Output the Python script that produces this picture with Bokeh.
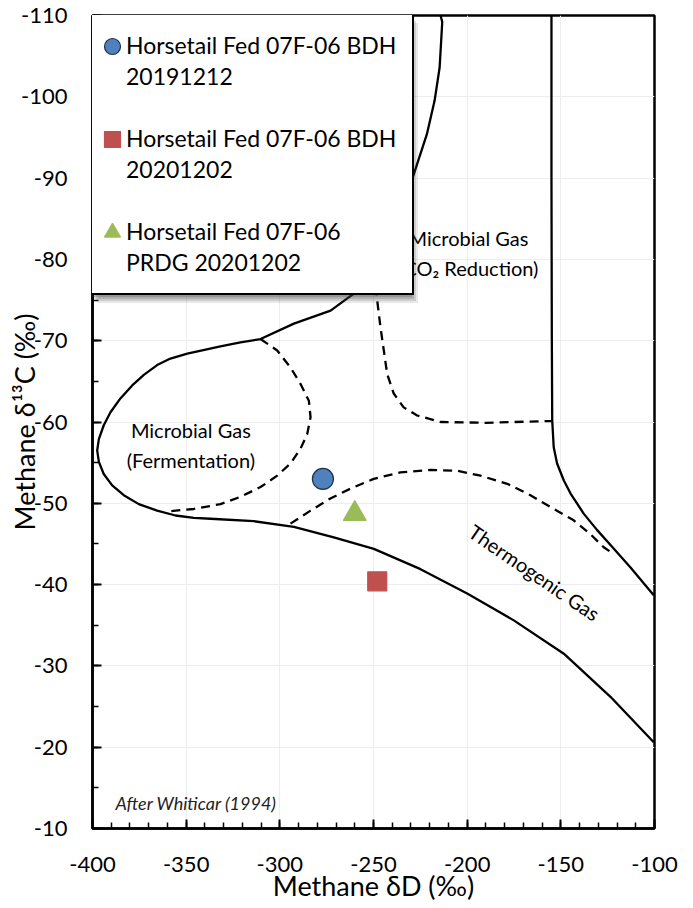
from bokeh.plotting import figure
from bokeh.models import Range1d, Legend, LegendItem, FixedTicker, ColumnDataSource
from bokeh.embed import file_html
from bokeh.resources import INLINE
from bokeh.core.properties import value

# ---------------- data ----------------
series_label_lines = [["Horsetail Fed 07F-06 BDH", "20191212"],
                      ["Horsetail Fed 07F-06 BDH", "20201202"],
                      ["Horsetail Fed 07F-06", "PRDG 20201202"]]
series_markers = ["circle", "square", "triangle"]
series_colors = ["#4f81bd", "#c0504d", "#9bbb59"]
sample_dD = [-277.0, -248.0, -260.0]
sample_d13C = [-53.0, -40.4, -48.7]

x_ticks = [-400, -350, -300, -250, -200, -150, -100]
x_minor = list(range(-400, -99, 10))
y_ticks = [-110, -100, -90, -80, -70, -60, -50, -40, -30, -20, -10]
y_minor = list(range(-110, -9, 5))

# field boundaries (after Whiticar 1994)
outer_dD = [-214.2, -213.3, -214.7, -217.4, -221.5, -229.3, -235.6, -242.0, -247.3, -252.7,
            -258.5, -264.0, -272.9, -292.5, -310.3, -321.0, -331.7, -349.4, -358.4, -365.5,
            -372.6, -378.8, -385.1, -390.4, -394.0, -396.6, -397.5, -396.6, -394.0, -389.5,
            -383.3, -375.3, -365.5, -355.7, -345.9, -337.0, -313.9, -292.5, -271.2, -249.8,
            -224.9, -200.0, -175.1, -148.4, -123.5, -100.4]
outer_d13C = [-110.0, -109.2, -103.6, -99.5, -95.4, -89.9, -86.3, -82.3, -79.6, -77.4,
              -76.1, -75.2, -73.7, -72.1, -70.2, -69.8, -69.3, -68.4, -67.8, -67.0,
              -65.8, -64.5, -62.9, -61.2, -59.6, -57.9, -56.5, -55.1, -53.6, -52.2,
              -51.0, -49.9, -49.1, -48.5, -48.2, -48.1, -47.8, -47.1, -45.8, -44.4,
              -41.9, -38.9, -35.6, -31.5, -26.2, -20.6]

right_dD = [-155.0, -155.0, -154.8, -154.6, -153.8, -152.0, -148.4, -144.8, -137.7, -130.6,
            -121.7, -112.8, -100.4]
right_d13C = [-110.0, -90.0, -70.0, -60.2, -56.9, -54.9, -52.8, -51.2, -48.7, -46.7,
              -44.4, -42.1, -38.7]

co2_dD = [-249.8, -248.0, -246.3, -244.5, -242.7, -239.2, -233.9, -226.7, -214.2, -190.0,
          -159.1, -155.0]
co2_d13C = [-78.5, -74.9, -71.7, -68.8, -65.9, -63.5, -61.8, -60.8, -60.0, -59.9,
            -60.1, -60.1]

ferm_dD = [-310.3, -301.4, -294.3, -289.0, -284.5, -283.6, -285.4, -289.0, -294.3, -301.4,
           -310.3, -321.0, -331.7, -345.9, -360.2]
ferm_d13C = [-70.2, -68.8, -66.7, -64.7, -62.6, -60.6, -58.5, -56.7, -54.9, -53.4,
             -52.0, -50.8, -49.9, -49.3, -49.0]

thermo_dD = [-294.3, -283.6, -273.0, -262.3, -249.9, -235.6, -219.6, -205.3, -192.9, -178.6,
             -166.2, -153.8, -143.1, -134.2, -127.1, -124.0]
thermo_d13C = [-47.5, -49.1, -50.6, -51.8, -53.0, -53.8, -54.1, -54.0, -53.4, -52.4,
               -51.0, -49.3, -47.9, -46.2, -44.6, -44.1]

region_text = ["Microbial Gas\n(Fermentation)", "Microbial Gas\n(CO\u2082 Reduction)", "Thermogenic Gas"]
region_dD = [-347.5, -199.3, -164.1]
region_d13C = [-57.2, -80.8, -41.5]
region_angle = [0.0, 0.0, -0.60]

note_text = ["After Whiticar (1994)"]
note_dD = [-387.7]
note_d13C = [-13.1]

FONT = "Lato"
FRAME_BOTTOM_BORDER = 80
FIG_H = 908
LEGEND_BOTTOM = 295  # px from top of figure

# ---------------- figure ----------------
p = figure(width=688, height=FIG_H, output_backend="svg", toolbar_location=None,
           x_range=Range1d(-400, -100), y_range=Range1d(-10, -110),
           min_border_left=92, min_border_top=15, min_border_right=34,
           min_border_bottom=FRAME_BOTTOM_BORDER)
p.background_fill_color = "white"
p.border_fill_color = "white"
p.outline_line_color = "black"
p.outline_line_width = 2.5

p.xgrid.ticker = FixedTicker(ticks=x_ticks)
p.ygrid.ticker = FixedTicker(ticks=y_ticks)
p.grid.grid_line_color = "#ededed"
p.grid.grid_line_width = 1

p.xaxis.ticker = FixedTicker(ticks=x_ticks, minor_ticks=x_minor)
p.yaxis.ticker = FixedTicker(ticks=y_ticks, minor_ticks=y_minor)
p.xaxis.major_label_overrides = {t: str(t) for t in x_ticks}
p.yaxis.major_label_overrides = {t: str(t) for t in y_ticks}
for ax in (p.xaxis[0], p.yaxis[0]):
    ax.axis_line_width = 2.5
    ax.axis_line_color = "black"
    ax.major_tick_in = 9
    ax.major_tick_out = 0
    ax.minor_tick_in = 6
    ax.minor_tick_out = 0
    ax.major_tick_line_width = 2
    ax.minor_tick_line_width = 1.5
    ax.major_tick_line_color = "black"
    ax.minor_tick_line_color = "black"
    ax.major_label_text_font = FONT
    ax.major_label_text_font_size = "22px"
    ax.major_label_text_color = "black"
    ax.axis_label_text_font = FONT
    ax.axis_label_text_font_size = "27px"
    ax.axis_label_text_font_style = "normal"
    ax.axis_label_text_color = "black"

p.xaxis.axis_label = "Methane \u03b4D (\u2030)"
p.yaxis.axis_label = "Methane \u03b4\u00b9\u00b3C (\u2030)"
p.xaxis.major_label_standoff = 28
p.xaxis.axis_label_standoff = -6
p.yaxis.major_label_standoff = 25
p.yaxis.axis_label_standoff = -23

# boundaries
p.line(outer_dD, outer_d13C, line_color="black", line_width=2.3)
p.line(right_dD, right_d13C, line_color="black", line_width=2.3)
p.line(co2_dD, co2_d13C, line_color="black", line_width=2.3, line_dash="9 6")
p.line(ferm_dD, ferm_d13C, line_color="black", line_width=2.3, line_dash="9 6")
p.line(thermo_dD, thermo_d13C, line_color="black", line_width=2.3, line_dash="9 6")

# region labels
rsrc = ColumnDataSource(dict(x=region_dD, y=region_d13C, text=region_text, angle=region_angle))
p.text(x="x", y="y", text="text", angle="angle", source=rsrc, text_font=value(FONT),
       text_font_size="20px", text_align="center", text_baseline="middle",
       text_color="black", text_line_height=1.25)
p.text(x=note_dD, y=note_d13C, text=note_text, text_font=value(FONT), text_font_size="18px",
       text_font_style="italic", text_align="left", text_baseline="middle", text_color="#222222")

# samples
glyph_items = []
text_items = []
sizes = [21, 19, 23]
for i in range(3):
    r = p.scatter([sample_dD[i]], [sample_d13C[i]], marker=series_markers[i], size=sizes[i],
                  fill_color=series_colors[i],
                  line_color="#1f2f45" if i == 0 else series_colors[i], line_width=1.2)
    glyph_items.append(LegendItem(label=" ", renderers=[r]))
    first, second = series_label_lines[i]
    lines = [first, second] + ([" "] if i < 2 else [])
    for t in lines:
        text_items.append(LegendItem(label=t, renderers=[]))

n_rows = len(text_items)


def style_box(lg):
    lg.margin = 0
    lg.padding = 16
    lg.spacing = 0
    lg.glyph_width = 18
    lg.glyph_height = 31
    lg.label_standoff = 0
    lg.label_width = 270
    lg.label_text_font = FONT
    lg.label_text_font_size = "23px"


# drop shadow of the legend box (soft layers)
frame_bottom = FIG_H - FRAME_BOTTOM_BORDER
for off, alpha in [(8, 0.12), (6, 0.16), (4, 0.20), (2, 0.24)]:
    sh = Legend(items=[LegendItem(label=" ", renderers=[]) for _ in range(n_rows)],
                location=(-2 + off, frame_bottom - LEGEND_BOTTOM - off))
    style_box(sh)
    sh.label_text_font_size = "1px"
    sh.border_line_alpha = 0.0
    sh.background_fill_color = "#404040"
    sh.background_fill_alpha = alpha
    p.add_layout(sh)

# legend box with the two-line labels
text_legend = Legend(items=text_items, location=(-2, frame_bottom - LEGEND_BOTTOM))
style_box(text_legend)
text_legend.label_text_color = "black"
text_legend.border_line_color = "black"
text_legend.border_line_alpha = 1.0
text_legend.border_line_width = 2.2
text_legend.background_fill_color = "white"
text_legend.background_fill_alpha = 1.0
p.add_layout(text_legend)

# markers of the legend, drawn on top of the box
glyph_legend = Legend(items=glyph_items, location="top_left")
glyph_legend.title = " "
glyph_legend.title_text_font_size = "7px"
glyph_legend.title_standoff = 4
glyph_legend.margin = 0
glyph_legend.padding = 0
glyph_legend.spacing = 53
glyph_legend.glyph_width = 40
glyph_legend.glyph_height = 40
glyph_legend.label_standoff = 0
glyph_legend.label_text_font_size = "1px"
glyph_legend.border_line_alpha = 0
glyph_legend.background_fill_alpha = 0
p.add_layout(glyph_legend)

open("out.html", "w").write(file_html(p, INLINE))
